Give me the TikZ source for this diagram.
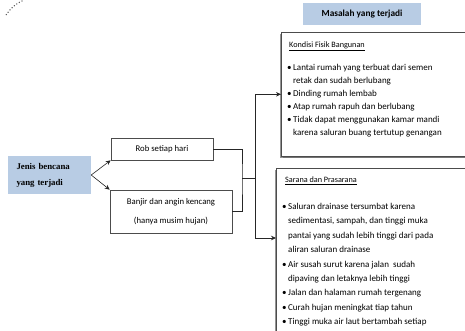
\documentclass[tikz,border=0pt]{standalone}
\usepackage{fontspec}
\setmainfont{Carlito}
\newfontfamily\serifbold{Liberation Serif}
\usetikzlibrary{arrows.meta,shadows}
\definecolor{boxblue}{RGB}{184,204,228}
\tikzset{
  bluebox/.style={rectangle,fill=boxblue,inner sep=0pt},
  shadowbox/.style={rectangle,draw=black!70,line width=0.6pt,fill=white,
    drop shadow={shadow xshift=1.3pt,shadow yshift=-1.3pt,fill=black!60,opacity=0.7}},
  bigbox/.style={shadowbox,anchor=north west,
    drop shadow={shadow xshift=-1.6pt,shadow yshift=-1.6pt,fill=black!60,opacity=0.7}},
  arr/.style={-{Stealth[length=5pt,width=4.5pt]},line width=0.6pt,draw=black!85},
  plain/.style={line width=0.6pt,draw=black!85},
  listtext/.style={align=left,anchor=north west,inner sep=0pt}
}
\newcommand{\bul}{\makebox[6pt][l]{\textbullet}}
\newcommand{\ind}{\hspace*{6pt}}
\begin{document}
\begin{tikzpicture}[x=1pt,y=-1pt]
  \useasboundingbox (0,0) rectangle (465,330);
  \clip (0,0) rectangle (465,330);
  \draw[dotted,line width=1pt,black!70] (6,15) .. controls (10,9) and (15,4) .. (24,0);
  % Masalah yang terjadi
  \node[bluebox,minimum width=118pt,minimum height=22pt,font=\fontsize{9.3}{10}\selectfont\bfseries] (node1) at (362,14) {Masalah yang terjadi};
  % Kondisi Fisik Bangunan
  \node[bigbox,minimum width=200pt,minimum height=124pt] (node2) at (281,32) {};
  \node[anchor=base west,inner sep=0pt,font=\fontsize{8.2}{9}\selectfont] (node3) at (289,47.5) {\underline{Kondisi Fisik Bangunan}};
  \node[listtext,font=\fontsize{9}{13}\selectfont] (node4) at (287,64.5) {\bul Lantai rumah yang terbuat dari semen\\
    \ind retak dan sudah berlubang\\
    \bul Dinding rumah lembab\\
    \bul Atap rumah rapuh dan berlubang\\
    \bul Tidak dapat menggunakan kamar mandi\\
    \ind karena saluran buang tertutup genangan};
  % Sarana dan Prasarana
  \node[bigbox,minimum width=205pt,minimum height=185pt] (node5) at (276,168) {};
  \node[anchor=base west,inner sep=0pt,font=\fontsize{8.2}{9}\selectfont] (node6) at (285,182.5) {\underline{Sarana dan Prasarana}};
  \node[listtext,font=\fontsize{9}{14.4}\selectfont] (node7) at (282,203) {\bul Saluran drainase tersumbat karena\\
    \ind sedimentasi, sampah, dan tinggi muka\\
    \ind pantai yang sudah lebih tinggi dari pada\\
    \ind aliran saluran drainase\\
    \bul Air susah surut karena jalan \ sudah\\
    \ind dipaving dan letaknya lebih tinggi\\
    \bul Jalan dan halaman rumah tergenang\\
    \bul Curah hujan meningkat tiap tahun\\
    \bul Tinggi muka air laut bertambah setiap};
  % Jenis bencana
  \node[bluebox,minimum width=83pt,minimum height=38pt,text width=66pt,align=left,font=\fontsize{8.8}{16}\selectfont\serifbold\bfseries] (node8) at (49.5,175) {Jenis bencana\\yang terjadi};
  \node[shadowbox,minimum width=102pt,minimum height=22pt,font=\fontsize{8.7}{10}\selectfont] (node9) at (162,149) {Rob setiap hari};
  \node[shadowbox,minimum width=122pt,minimum height=43pt,align=center,font=\fontsize{8.7}{19}\selectfont] (node10) at (171,211.5) {Banjir dan angin kencang\\(hanya musim hujan)};
  % connectors
  \coordinate (c1) at (242,178);
  \coordinate (c2) at (255,178);
  \draw[arr] (node8.east) -- (node9.south west);
  \draw[arr] (node8.east) -- (node10.north west);
  \draw[plain] (node9.east) -| (c1) |- (node10.east);
  \draw[plain] (c1) -- (c2);
  \draw[arr] (c2) |- (node2.west);
  \draw[arr] (c2) |- ([yshift=-70pt]node5.north west);
\end{tikzpicture}
\end{document}
